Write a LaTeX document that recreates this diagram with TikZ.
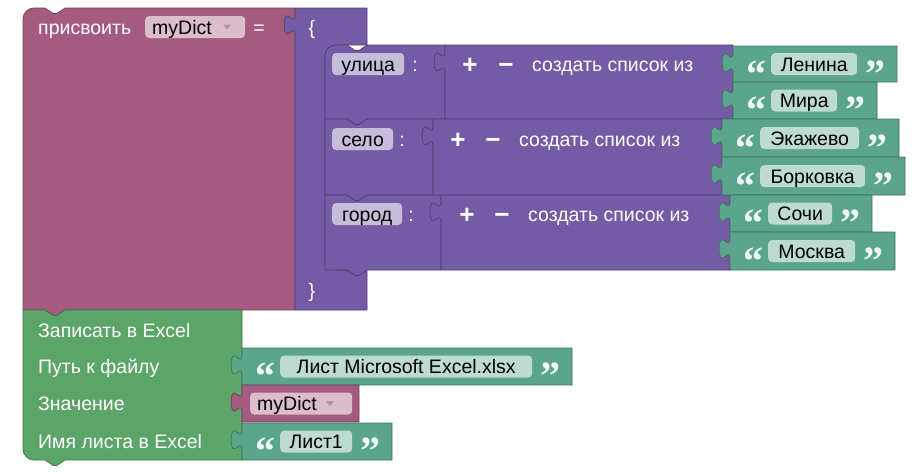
\documentclass[tikz,border=0pt]{standalone}
\usepackage{fontspec}
\setmainfont{Liberation Sans}
\newfontfamily\quotefont{Liberation Serif}
\usepackage{xcolor}
\usepackage{tikz}
\usetikzlibrary{positioning, calc}
\definecolor{varmaroon}{HTML}{A55B80}
\definecolor{listpurple}{HTML}{745BA5}
\definecolor{textgreen}{HTML}{5BA58C}
\definecolor{excelgreen}{HTML}{5BA568}
\newcommand{\blockfont}{\fontsize{19.5}{22}\selectfont}
\tikzset{
  block/.style={line width=0.7pt, line join=round},
  varbox/.style={block, fill=varmaroon, draw=varmaroon!70!black},
  listbox/.style={block, fill=listpurple, draw=listpurple!70!black},
  strbox/.style={block, fill=textgreen, draw=textgreen!70!black},
  excelbox/.style={block, fill=excelgreen, draw=excelgreen!70!black},
  blocktext/.style={
    font=\blockfont, text=white, inner sep=0pt,
    text height=14pt, text depth=0pt, anchor=west
  },
  fieldtext/.style={blocktext, text=black},
  field/.style={
    rounded corners=4pt, inner sep=0pt, minimum height=22pt, anchor=west,
    font=\blockfont, text=black, text height=14pt, text depth=0pt
  },
  varfield/.style={field, fill=varmaroon!40!white},
  keyfield/.style={field, fill=listpurple!40!white},
  strfield/.style={field, fill=textgreen!40!white},
  quote/.style={
    font=\quotefont\bfseries\fontsize{40}{40}\selectfont,
    text=white!92!textgreen, inner sep=0pt, anchor=base
  },
  sign/.style={
    font=\bfseries\fontsize{26}{26}\selectfont, text=white,
    inner sep=0pt, text height=18pt, text depth=0pt, anchor=center
  },
  ddarrow/.style={fill=varmaroon!70!white}
}
% puzzle tab on the left edge of a value block, drawn upwards
\newcommand{\tabup}[2]{-- (#1,#2+27)
  .. controls (#1,#2+13.5) and (#1-10.8,#2+37.8) .. (#1-10.8,#2+16.9)
  .. controls (#1-10.8,#2-4.05) and (#1,#2+20.25) .. (#1,#2+6.75)}
% value block: style, left, top, right, bottom
\newcommand{\valblock}[5]{%
  \draw[#1] (#2,#3) -- (#4,#3) -- (#4,#5) -- (#2,#5) \tabup{#2}{#3} -- cycle;}
% key row of the dictionary: top, bottom, right, corner radius
\newcommand{\keyblock}[4]{%
  \draw[listbox] (325,#2) -- (325,#1+#4)
    .. controls (325,#1+0.45*#4) and (325+0.45*#4,#1) .. (325+#4,#1)
    -- (347,#1) -- (355,#1+5.4) -- (359,#1+5.4) -- (367,#1) -- (#3,#1)
    -- (#3,#2) -- (367,#2) -- (359,#2+5.4) -- (355,#2+5.4) -- (347,#2)
    -- cycle;}
% text block: name, left, top, bottom, field width, text
\newcommand{\strblock}[6]{%
  \pgfmathsetmacro{\strright}{#2+78+#5}%
  \pgfmathsetmacro{\strmid}{(#3+#4)/2}%
  \valblock{strbox}{#2}{#3}{\strright}{#4}
  \node[quote] (#1open) at (#2+23,\strmid+23) {“};
  \node[strfield, minimum width=#5pt] (#1) at (#2+38,\strmid) {#6};
  \node[quote] (#1close) at (#2+56+#5,\strmid+23) {”};}
\begin{document}
\begin{tikzpicture}[x=1pt, y=-1pt]
  \useasboundingbox (0,0) rectangle (916,474);

  % set variable block
  \draw[varbox] (23,310) -- (23,19) .. controls (23,12.9) and (27.9,8) .. (34,8)
    -- (45,8) -- (53,13.4) -- (57,13.4) -- (65,8) -- (295,8) -- (295,310)
    -- (65,310) -- (57,315.4) -- (53,315.4) -- (45,310) -- cycle;
  \node[blocktext] (setlbl) at (38,27) {присвоить};
  \node[varfield, minimum width=100pt] (setvar) at (145,27) {};
  \node[fieldtext, right=7pt of setvar.west] (setvartxt) {myDict};
  \fill[ddarrow] (223,24.5) -- (231,24.5) -- (227,29.5) -- cycle;
  \node[blocktext, anchor=center] (seteq) at (259,27) {=};

  % write to Excel block
  \draw[excelbox] (23,310) -- (45,310) -- (53,315.4) -- (57,315.4) -- (65,310)
    -- (242,310) -- (242,460) -- (65,460) -- (57,465.4) -- (53,465.4)
    -- (45,460) -- (34,460) .. controls (27.9,460) and (23,455.1) .. (23,449)
    -- cycle;
  \node[blocktext] (xlwrite) at (38,330) {Записать в Excel};
  \node[blocktext] (xlpath) at (38,366.5) {Путь к файлу};
  \node[blocktext] (xlvalue) at (38,403.5) {Значение};
  \node[blocktext] (xlsheet) at (38,441.5) {Имя листа в Excel};

  % dictionary block
  \draw[listbox] (295,8) -- (367,8) -- (367,45) -- (336,45)
    .. controls (330.1,45) and (325,49.9) .. (325,56) -- (325,259)
    .. controls (325,265.1) and (330.1,270) .. (336,270) -- (367,270)
    -- (367,310) -- (295,310) \tabup{295}{8} -- cycle;
  \node[blocktext, anchor=center] (dictopen) at (312,27) {\{};
  \node[blocktext, anchor=center] (dictclose) at (312,290) {\}};

  % keys
  \keyblock{45}{119}{445}{11}
  \keyblock{119}{195}{433}{0}
  \keyblock{195}{270}{441}{0}
  \node[keyfield, minimum width=72pt] (kstreet) at (332,64) {улица};
  \node[blocktext, anchor=center] (kstreetsep) at (415,64) {:};
  \node[keyfield, minimum width=61pt] (kvillage) at (332,139) {село};
  \node[blocktext, anchor=center] (kvillagesep) at (402,139) {:};
  \node[keyfield, minimum width=70pt] (kcity) at (332,214) {город};
  \node[blocktext, anchor=center] (kcitysep) at (411,214) {:};

  % lists
  \valblock{listbox}{445}{45}{733}{119}
  \node[sign] (add1) at (470,64) {+};
  \node[sign] (del1) at (506,64) {−};
  \node[blocktext] (mk1) at (532,64) {создать список из};
  \valblock{listbox}{433}{119}{722}{195}
  \node[sign] (add2) at (458,139) {+};
  \node[sign] (del2) at (493,139) {−};
  \node[blocktext] (mk2) at (519,139) {создать список из};
  \valblock{listbox}{441}{195}{730}{270}
  \node[sign] (add3) at (467,214) {+};
  \node[sign] (del3) at (502,214) {−};
  \node[blocktext] (mk3) at (528,214) {создать список из};

  % list items
  \strblock{lenina}{733}{46}{82}{86}{Ленина}
  \strblock{mira}{733}{82}{119}{66}{Мира}
  \strblock{ekazh}{722}{119}{157}{99}{Экажево}
  \strblock{bork}{722}{157}{195}{105}{Борковка}
  \strblock{sochi}{730}{195}{232}{64}{Сочи}
  \strblock{moscow}{730}{232}{270}{87}{Москва}

  % Excel inputs
  \strblock{xlfile}{242}{348}{385}{252}{Лист Microsoft Excel.xlsx}
  \valblock{varbox}{242}{385}{359}{422}
  \node[varfield, minimum width=102pt] (getvar) at (250,403.5) {};
  \node[fieldtext, right=7pt of getvar.west] (getvartxt) {myDict};
  \fill[ddarrow] (326,401) -- (334,401) -- (330,406) -- cycle;
  \strblock{xlname}{242}{423}{460}{72}{Лист1}
\end{tikzpicture}
\end{document}
